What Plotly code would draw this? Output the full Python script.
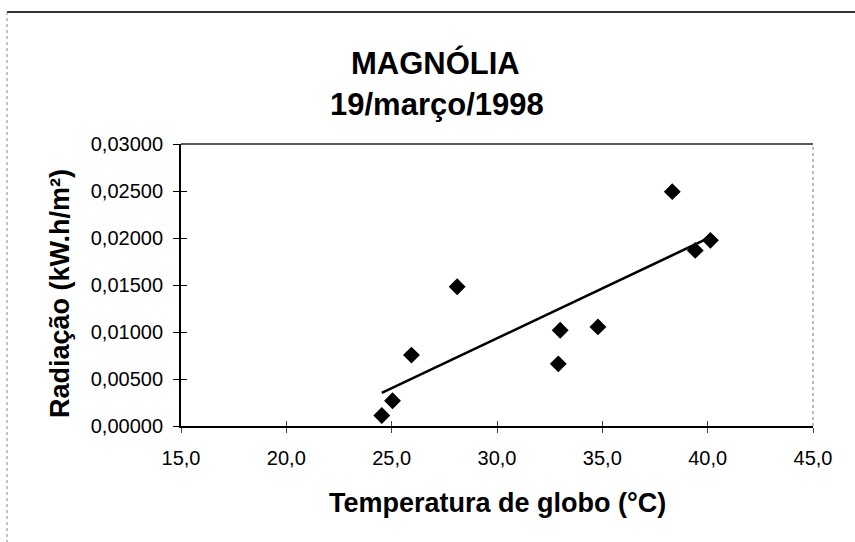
import numpy as np
import plotly.graph_objects as go

# Globe temperature (°C) and radiation (kW.h/m²) readings
temperatura = [24.53, 25.04, 25.94, 28.11, 32.91, 33.00, 34.79, 38.32, 39.41, 40.13]
radiacao = [0.00111, 0.00268, 0.00754, 0.01482, 0.00661, 0.01018, 0.01054, 0.02493, 0.01868, 0.01975]

x_ticks = [15, 20, 25, 30, 35, 40, 45]
y_ticks = [0.0, 0.005, 0.010, 0.015, 0.020, 0.025, 0.030]

titulo = "MAGNÓLIA"
subtitulo = "19/março/1998"
x_titulo = "Temperatura de globo (°C)"
y_titulo = "Radiação (kW.h/m²)"

# Linear trend over the observed temperature range
coef = np.polyfit(temperatura, radiacao, 1)
tx = np.array([min(temperatura), max(temperatura)])
ty = np.polyval(coef, tx)

FONT = "Liberation Sans, Arial, sans-serif"

fig = go.Figure()
fig.add_trace(go.Scatter(
    x=temperatura, y=radiacao, mode="markers",
    marker=dict(symbol="diamond", size=13, color="black"),
    showlegend=False, hoverinfo="skip",
))
fig.add_trace(go.Scatter(
    x=tx, y=ty, mode="lines",
    line=dict(color="black", width=2.6),
    showlegend=False, hoverinfo="skip",
))
# helper trace so the overlaid tick-only axes are drawn
fig.add_trace(go.Scatter(x=[None], y=[None], xaxis="x2", yaxis="y2",
                         showlegend=False, hoverinfo="skip"))

L, R, T, B = 181, 42, 144, 116
W, H = 855, 542
pw, ph = W - L - R, H - T - B


def px(xp):
    return (xp - L) / pw


def py(yp):
    return (H - B - yp) / ph


axis_font = dict(family=FONT, size=20, color="black")

fig.update_layout(
    width=W, height=H,
    margin=dict(l=L, r=R, t=T, b=B),
    paper_bgcolor="white", plot_bgcolor="white",
    separators=",.",
    font=dict(family=FONT, color="black"),
    xaxis=dict(
        range=[15, 45], tickvals=x_ticks, tickformat=".1f",
        showgrid=False, zeroline=False,
        showline=True, linecolor="black", linewidth=2,
        ticks="outside", ticklen=5, tickcolor="#444", tickwidth=1,
        tickfont=axis_font, ticklabelstandoff=8,
    ),
    yaxis=dict(
        range=[0, 0.03], tickvals=y_ticks, tickformat=".5f",
        showgrid=False, zeroline=False,
        showline=True, linecolor="black", linewidth=2,
        ticks="outside", ticklen=6, tickcolor="black", tickwidth=1,
        tickfont=axis_font, ticklabelstandoff=6,
    ),
    xaxis2=dict(
        overlaying="x", matches="x", range=[15, 45], tickvals=x_ticks,
        showticklabels=False, showgrid=False, zeroline=False, showline=False,
        ticks="inside", ticklen=5, tickcolor="#444", tickwidth=1,
    ),
    yaxis2=dict(
        overlaying="y", matches="y", range=[0, 0.03], tickvals=y_ticks,
        showticklabels=False, showgrid=False, zeroline=False, showline=False,
        ticks="inside", ticklen=6, tickcolor="black", tickwidth=1,
    ),
    shapes=[
        # plot area frame: top and right edges
        dict(type="line", xref="paper", yref="paper", x0=0, x1=1, y0=1, y1=1,
             line=dict(color="#222", width=1.5)),
        dict(type="line", xref="paper", yref="paper", x0=1, x1=1, y0=0, y1=1,
             line=dict(color="#777", width=1, dash="dot")),
        # chart area border
        dict(type="line", xref="paper", yref="paper",
             x0=px(7), x1=px(W + 10), y0=py(12), y1=py(12),
             line=dict(color="#333", width=2)),
        dict(type="line", xref="paper", yref="paper",
             x0=px(7), x1=px(7), y0=py(12), y1=py(H + 10),
             line=dict(color="#888", width=1, dash="dot")),
    ],
    annotations=[
        dict(text=f"<b>{titulo}</b>", xref="paper", yref="paper",
             x=px(435), y=py(63), xanchor="center", yanchor="middle",
             showarrow=False, font=dict(family=FONT, size=31, color="black")),
        dict(text=f"<b>{subtitulo}</b>", xref="paper", yref="paper",
             x=px(437), y=py(104), xanchor="center", yanchor="middle",
             showarrow=False, font=dict(family=FONT, size=31, color="black")),
        dict(text=f"<b>{x_titulo}</b>", xref="paper", yref="paper",
             x=px(497), y=py(503), xanchor="center", yanchor="middle",
             showarrow=False, font=dict(family=FONT, size=27, color="black")),
        dict(text=f"<b>{y_titulo}</b>", xref="paper", yref="paper",
             x=px(60), y=py(294), xanchor="center", yanchor="middle",
             textangle=-90,
             showarrow=False, font=dict(family=FONT, size=27, color="black")),
    ],
)

fig.write_html("out.html")
